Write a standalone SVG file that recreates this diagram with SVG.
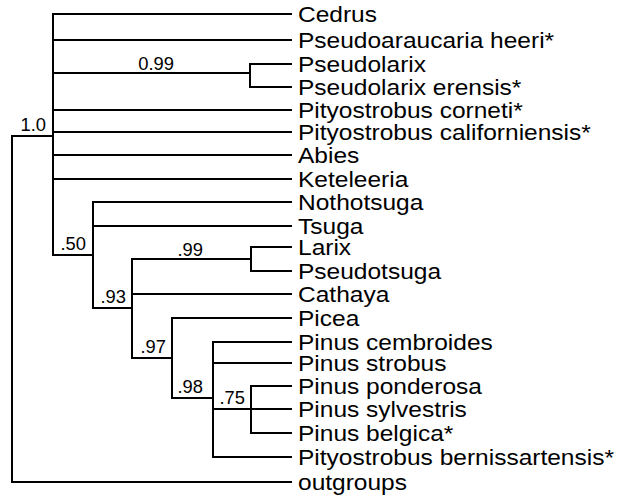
<svg xmlns="http://www.w3.org/2000/svg" width="626" height="497" viewBox="0 0 626 497">
<style>
.e{stroke:#000;stroke-width:2;fill:none;stroke-linecap:square}
.t{font-family:"Liberation Sans",Arial,sans-serif;font-size:22.5px;fill:#000}
.s{font-family:"Liberation Sans",Arial,sans-serif;font-size:18px;fill:#000;text-anchor:end}
</style>
<rect width="626" height="497" fill="#fff"/>
<g id="connectors" class="e">
<path d="M12,136V482H291M12,136H53"/>
<path d="M53,14V255M53,14H291M53,40H291M53,73H250M53,110H291M53,132H291M53,155H291M53,179H291"/>
<path d="M250,64V87M250,64H291M250,87H291"/>
<path d="M53,255H93M93,202V308M93,202H291M93,226H291"/>
<path d="M93,308H132M132,259V358M132,259H251M132,294H291"/>
<path d="M251,247V271M251,247H291M251,271H291"/>
<path d="M132,358H172M172,318V398M172,318H291"/>
<path d="M172,398H213M213,342V457M213,342H291M213,363H291M213,409H291M213,457H291"/>
<path d="M251,386V433M251,386H291M251,433H291"/>
</g>
<g id="n-cedrus"><text class="t" transform="matrix(1.09 0 0 1 298 22)">Cedrus</text></g>
<g id="n-pseudoaraucaria"><text class="t" transform="matrix(1.09 0 0 1 298 48)">Pseudoaraucaria heeri*</text></g>
<g id="n-pseudolarix"><text class="t" transform="matrix(1.09 0 0 1 298 72)">Pseudolarix</text></g>
<g id="n-pseudolarix-erensis"><text class="t" transform="matrix(1.09 0 0 1 298 95)">Pseudolarix erensis*</text></g>
<g id="n-pityostrobus-corneti"><text class="t" transform="matrix(1.09 0 0 1 298 118)">Pityostrobus corneti*</text></g>
<g id="n-pityostrobus-californiensis"><text class="t" transform="matrix(1.09 0 0 1 298 140)">Pityostrobus californiensis*</text></g>
<g id="n-abies"><text class="t" transform="matrix(1.09 0 0 1 298 163)">Abies</text></g>
<g id="n-keteleeria"><text class="t" transform="matrix(1.09 0 0 1 298 187)">Keteleeria</text></g>
<g id="n-nothotsuga"><text class="t" transform="matrix(1.09 0 0 1 298 210)">Nothotsuga</text></g>
<g id="n-tsuga"><text class="t" transform="matrix(1.09 0 0 1 298 234)">Tsuga</text></g>
<g id="n-larix"><text class="t" transform="matrix(1.09 0 0 1 298 255)">Larix</text></g>
<g id="n-pseudotsuga"><text class="t" transform="matrix(1.09 0 0 1 298 279)">Pseudotsuga</text></g>
<g id="n-cathaya"><text class="t" transform="matrix(1.09 0 0 1 298 302)">Cathaya</text></g>
<g id="n-picea"><text class="t" transform="matrix(1.09 0 0 1 298 326)">Picea</text></g>
<g id="n-pinus-cembroides"><text class="t" transform="matrix(1.09 0 0 1 298 350)">Pinus cembroides</text></g>
<g id="n-pinus-strobus"><text class="t" transform="matrix(1.09 0 0 1 298 371)">Pinus strobus</text></g>
<g id="n-pinus-ponderosa"><text class="t" transform="matrix(1.09 0 0 1 298 394)">Pinus ponderosa</text></g>
<g id="n-pinus-sylvestris"><text class="t" transform="matrix(1.09 0 0 1 298 417)">Pinus sylvestris</text></g>
<g id="n-pinus-belgica"><text class="t" transform="matrix(1.09 0 0 1 298 441)">Pinus belgica*</text></g>
<g id="n-pityostrobus-bernissartensis"><text class="t" transform="matrix(1.09 0 0 1 298 465)">Pityostrobus bernissartensis*</text></g>
<g id="n-outgroups"><text class="t" transform="matrix(1.09 0 0 1 298 490)">outgroups</text></g>
<g id="s-root"><text class="s" transform="matrix(1.02 0 0 1 46 131)">1.0</text></g>
<g id="s-pseudolarix"><text class="s" transform="matrix(1.02 0 0 1 174 70)">0.99</text></g>
<g id="s-50"><text class="s" transform="matrix(1.02 0 0 1 86 250)">.50</text></g>
<g id="s-93"><text class="s" transform="matrix(1.02 0 0 1 126 303)">.93</text></g>
<g id="s-99"><text class="s" transform="matrix(1.02 0 0 1 203 256)">.99</text></g>
<g id="s-97"><text class="s" transform="matrix(1.02 0 0 1 166 353)">.97</text></g>
<g id="s-98"><text class="s" transform="matrix(1.02 0 0 1 203 393)">.98</text></g>
<g id="s-75"><text class="s" transform="matrix(1.02 0 0 1 245 404)">.75</text></g>
</svg>
